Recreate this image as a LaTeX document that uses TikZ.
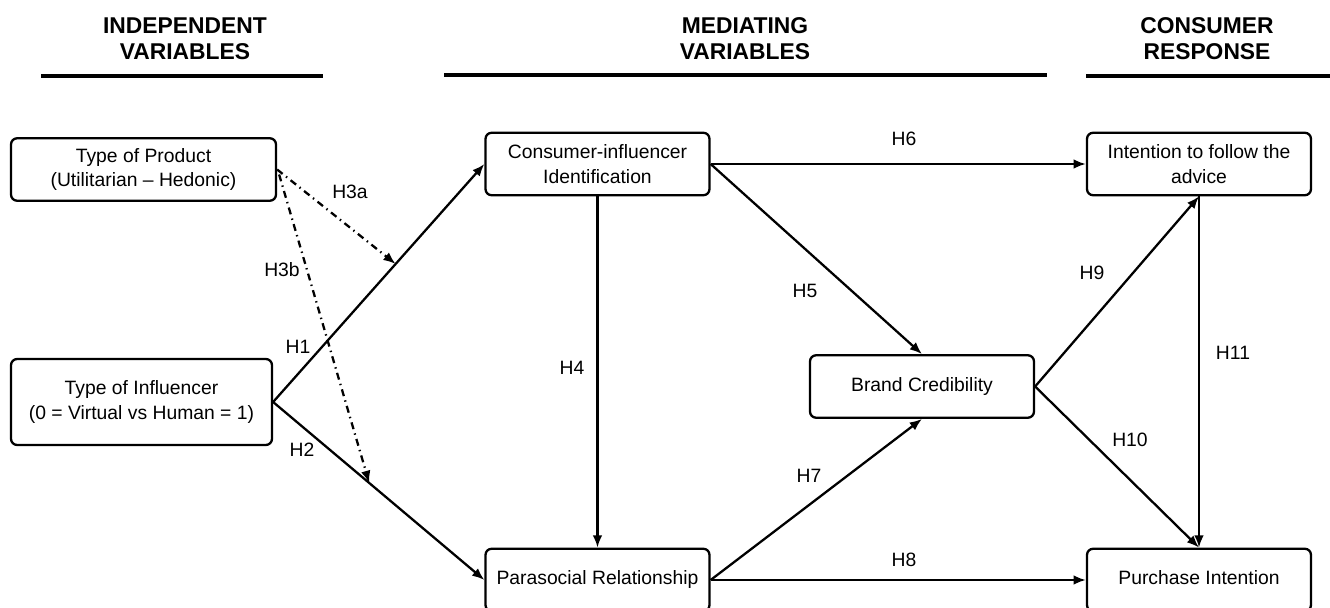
\documentclass[tikz,border=0pt]{standalone}
\usepackage{fontspec}
\setmainfont{Liberation Sans}
\usetikzlibrary{arrows.meta}
\usetikzlibrary{calc}

\begin{document}
\begin{tikzpicture}[x=0.02cm,y=-0.02cm,
  varbox/.style={draw,line width=1.3pt,rounded corners=3.5pt,align=center,inner sep=0pt,
    font=\fontsize{11}{14}\selectfont,minimum width=4.48cm,minimum height=1.25cm},
  oneline/.style={text height=0.75em,text depth=0.22em},
  hyp/.style={-{Latex[length=7pt,width=5.5pt]},line width=1.3pt},
  modline/.style={hyp,dash pattern=on 4pt off 2.5pt on 0.8pt off 2.5pt},
  hlabel/.style={font=\fontsize{11}{14}\selectfont,inner sep=0pt},
  header/.style={font=\fontsize{13}{14.7}\selectfont\bfseries,align=center},
  rulebar/.style={line width=2.7pt}]
\useasboundingbox (0,0) rectangle (1330,608);

% column headers
\node[header] (indephead) at (185,39) {INDEPENDENT\\VARIABLES};
\node[header] (mediahead) at (745,39) {MEDIATING\\VARIABLES};
\node[header] (resphead) at (1207,39) {CONSUMER\\RESPONSE};
\draw[rulebar] (41,76) -- (323,76);
\draw[rulebar] (444,75) -- (1047,75);
\draw[rulebar] (1086,76) -- (1330,76);

% variables
\node[varbox,minimum width=5.3cm] (prod) at (143.5,169.5) {Type of Product\\(Utilitarian -- Hedonic)};
\node[varbox,minimum width=5.22cm,minimum height=1.72cm] (infl) at (141.5,402) {Type of Influencer\\(0 = Virtual vs Human = 1)};
\node[varbox] (ident) at (597.5,164) {Consumer-influencer\\Identification};
\node[varbox,oneline] (para) at (597.5,580) {Parasocial Relationship};
\node[varbox,oneline] (brand) at (922,386.5) {Brand Credibility};
\node[varbox] (follow) at (1199,164) {Intention to follow the\\advice};
\node[varbox,oneline] (purch) at (1199,580) {Purchase Intention};

% paths
\draw[hyp] (infl.east) -- (ident.west);
\draw[hyp] (infl.east) -- (para.west);
\coordinate (onh1) at ($(infl.east)!0.58!(ident.west)$);
\coordinate (onh2) at ($(infl.east)!0.455!(para.west)$);
\draw[modline] (prod.east) -- (onh1);
\draw[modline] ($(prod.east)+(2,5)$) -- (onh2);
\draw[hyp] (ident.south) -- (para.north);
\draw[hyp] (ident.east) -- (brand.north);
\draw[hyp] (ident.east) -- (follow.west);
\draw[hyp] (para.east) -- (brand.south);
\draw[hyp] (para.east) -- (purch.west);
\draw[hyp] (brand.east) -- (follow.south);
\draw[hyp] (brand.east) -- (purch.north);
\draw[hyp] (follow.south) -- (purch.north);

% hypothesis labels
\node[hlabel] (lh1) at (298,347) {H1};
\node[hlabel] (lh2) at (302,450) {H2};
\node[hlabel] (lh3a) at (350,192) {H3a};
\node[hlabel] (lh3b) at (282,270) {H3b};
\node[hlabel] (lh4) at (572,368) {H4};
\node[hlabel] (lh5) at (805,291) {H5};
\node[hlabel] (lh6) at (904,139) {H6};
\node[hlabel] (lh7) at (809,476) {H7};
\node[hlabel] (lh8) at (904,560) {H8};
\node[hlabel] (lh9) at (1092,273) {H9};
\node[hlabel] (lh10) at (1130,440) {H10};
\node[hlabel] (lh11) at (1233,353) {H11};
\end{tikzpicture}
\end{document}
